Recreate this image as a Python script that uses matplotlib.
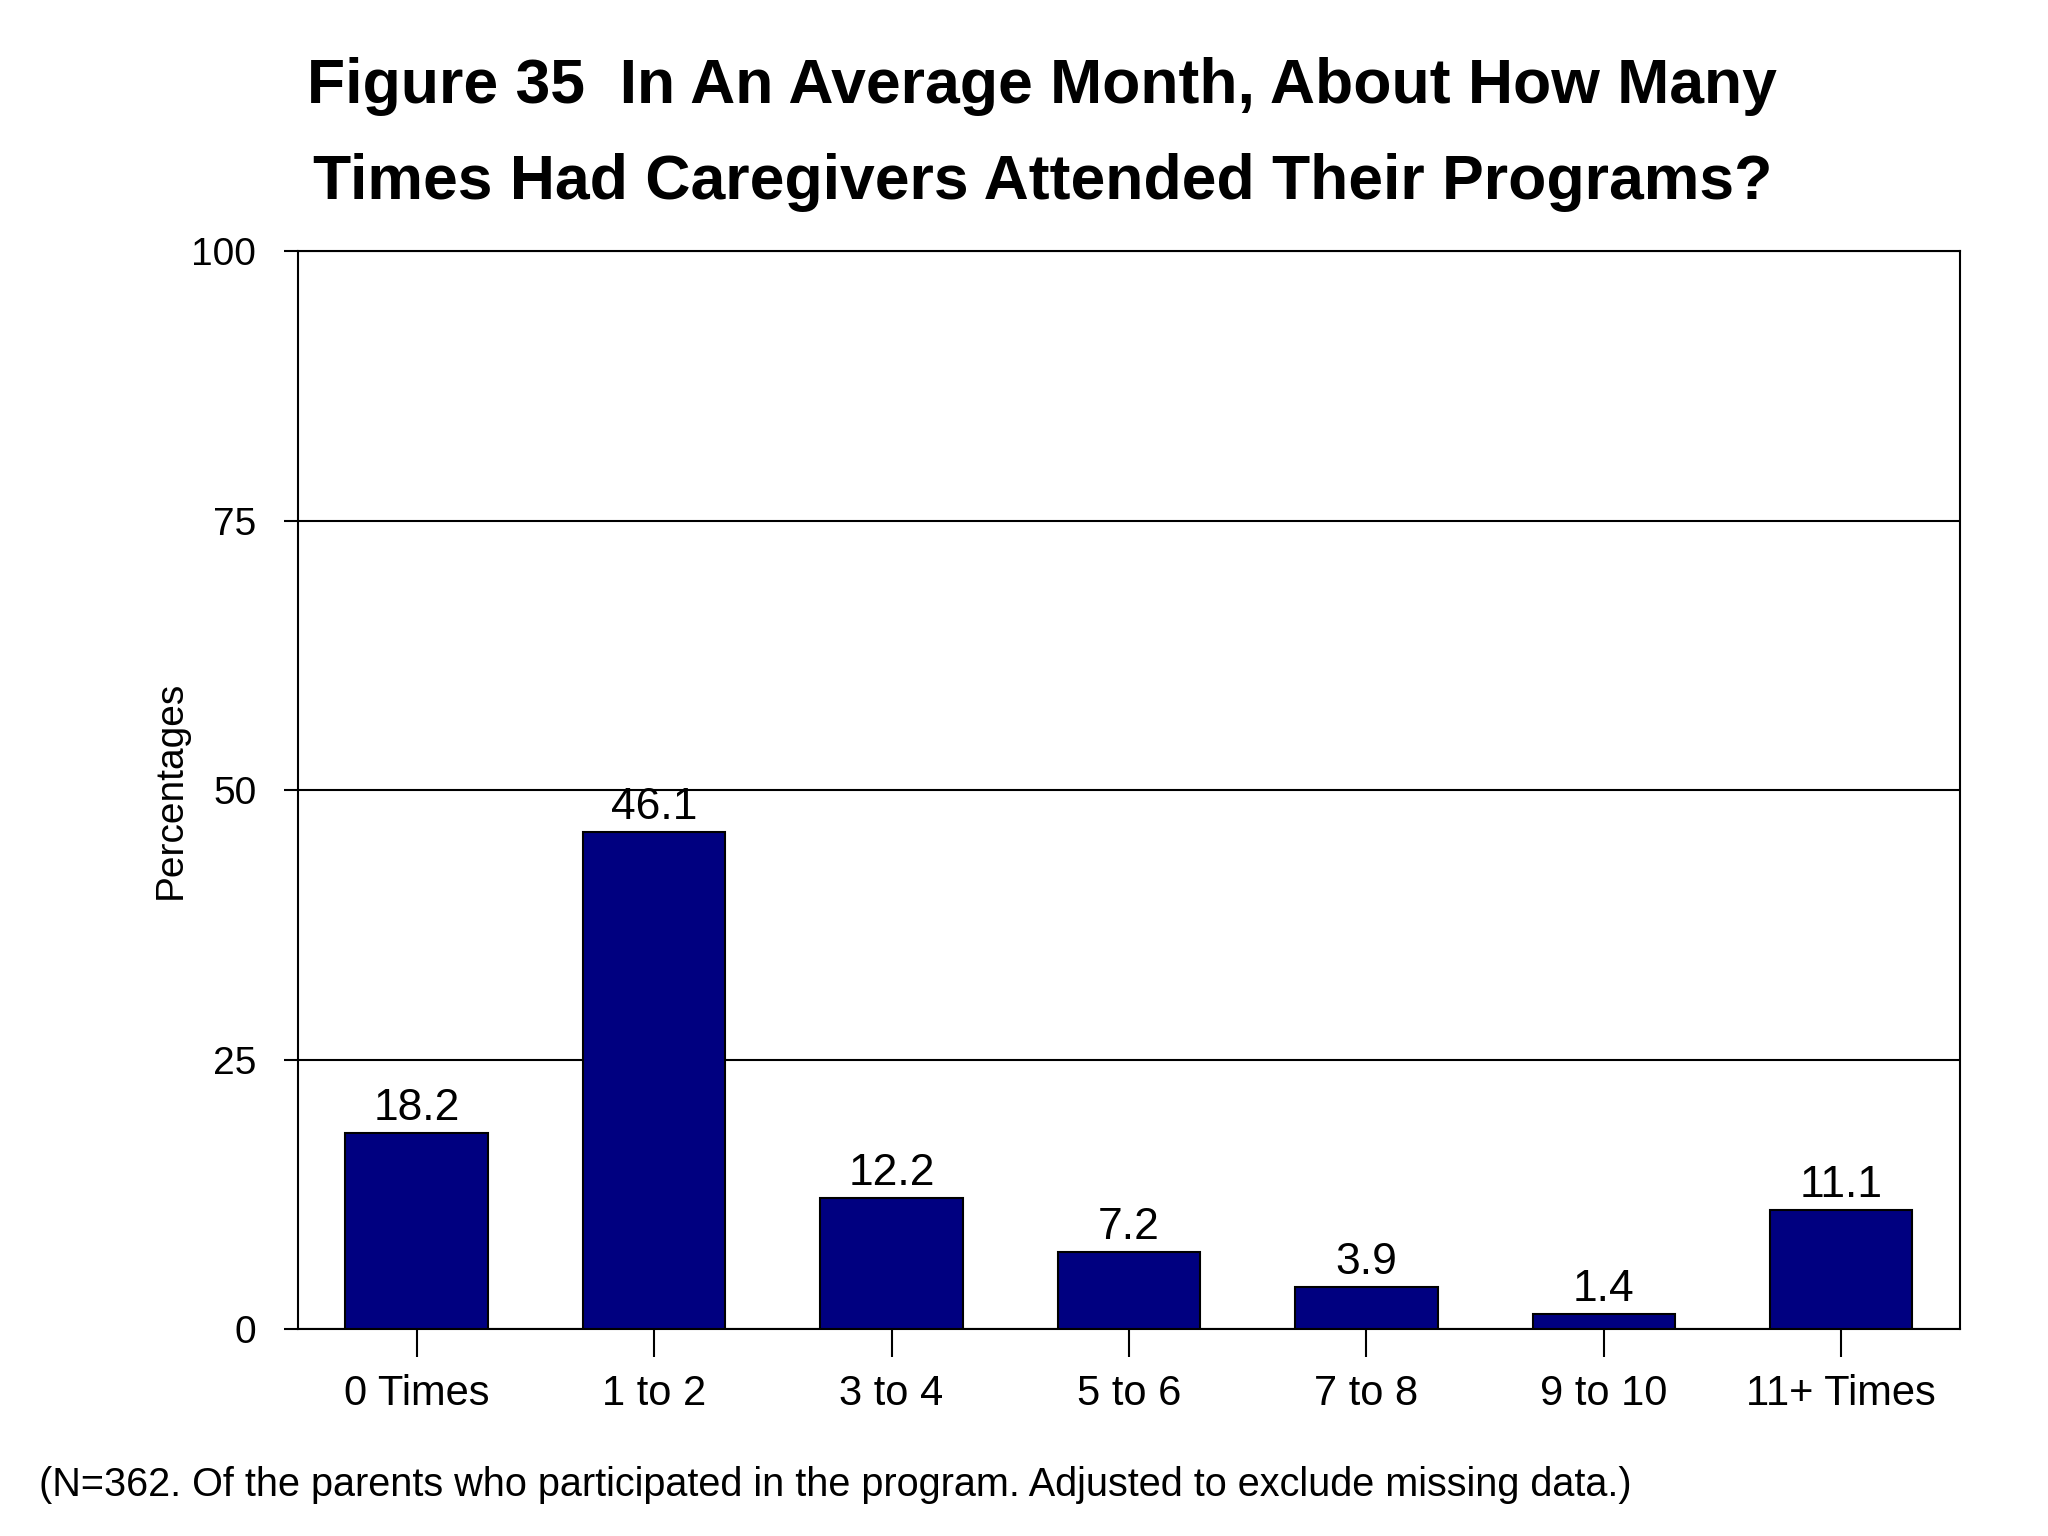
import matplotlib
matplotlib.use("Agg")
import matplotlib.pyplot as plt

categories = ["0 Times", "1 to 2", "3 to 4", "5 to 6", "7 to 8", "9 to 10", "11+ Times"]
values = [18.2, 46.1, 12.2, 7.2, 3.9, 1.4, 11.1]
yticks = [0, 25, 50, 75, 100]

plt.rcParams['font.family'] = ['Liberation Sans', 'DejaVu Sans']

fig = plt.figure(figsize=(20.48, 15.36), dpi=100)
ax = fig.add_axes([0.1455, 0.1345, 0.8115, 0.702])

x = list(range(len(categories)))
ax.bar(x, values, width=0.6, color='#000080', edgecolor='black', linewidth=1.5, zorder=3)
for xi, v in zip(x, values):
    ax.annotate(f"{v:.1f}", (xi, v), xytext=(0, 3), textcoords='offset points',
                ha='center', va='bottom', fontsize=32)

ax.set_xlim(-0.5, len(categories) - 0.5)
ax.set_ylim(0, 100)
ax.set_yticks(yticks)
ax.set_yticklabels([str(t) for t in yticks], fontsize=28)
ax.set_xticks(x)
ax.set_xticklabels(categories, fontsize=30)
ax.tick_params(axis='y', length=10, width=1.5, pad=20)
ax.tick_params(axis='x', length=20, width=1.5, pad=12)
ax.yaxis.grid(True, color='black', linewidth=1.5, zorder=0)
ax.set_axisbelow(True)
for s in ax.spines.values():
    s.set_linewidth(1.5)
    s.set_color('black')

ax.set_ylabel("Percentages", fontsize=28, labelpad=2)

fig.text(0.509, 0.944, "Figure 35  In An Average Month, About How Many",
         ha='center', va='center', fontsize=45, fontweight='bold')
fig.text(0.509, 0.881, "Times Had Caregivers Attended Their Programs?",
         ha='center', va='center', fontsize=45, fontweight='bold')
fig.text(0.019, 0.033, "(N=362. Of the parents who participated in the program. Adjusted to exclude missing data.)",
         ha='left', va='center', fontsize=28.5)

fig.savefig("out.png", dpi=100)
